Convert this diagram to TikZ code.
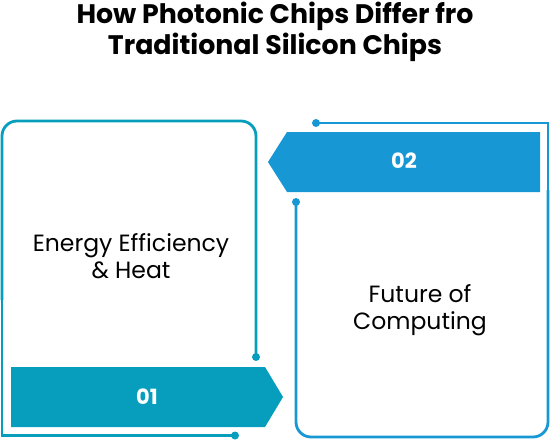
\documentclass[tikz,border=0pt]{standalone}
\usepackage{fontspec}
\setmainfont{Poppins}
\definecolor{teal1}{HTML}{069EBC}
\definecolor{blue2}{HTML}{1798D4}
\begin{document}
\begin{tikzpicture}[x=1pt,y=-1pt,
  frame/.style={line width=2.8pt},
  dotc/.style={circle,inner sep=0pt,minimum size=8pt},
  num/.style={text=white,font=\fontsize{21}{24}\selectfont\bfseries},
  body/.style={align=center,font=\fontsize{23.5}{27}\selectfont},
]
\useasboundingbox (0,0) rectangle (551,441);
\node[font=\fontsize{26.8}{31}\selectfont\bfseries,align=center] (title) at (275,32) {How Photonic Chips Differ fro\\Traditional Silicon Chips};

% left frame
\node[dotc,fill=teal1] (d1) at (256,357) {};
\node[dotc,fill=teal1] (d2) at (235,435.5) {};
\coordinate (l1) at (2,300);
\draw[frame,draw=teal1,rounded corners=15pt] (d1.center) -- (256,121) -- (2,121) -- (l1);
\draw[frame,draw=teal1] (2,290) -- (2,435.5) -- (d2.center);

% right frame
\node[dotc,fill=blue2] (d3) at (316,123) {};
\node[dotc,fill=blue2] (d4) at (296,202) {};
\draw[frame,draw=blue2] (d3.center) -- (548,123) -- (548,200);
\draw[frame,draw=blue2,rounded corners=15pt] (548,190) -- (548,437) -- (296,437) -- (d4.center);

% banners
\fill[teal1] (11,367) -- (265,367) -- (283,397) -- (265,427) -- (11,427) -- cycle;
\node[num] (n1) at (147,397) {01};
\fill[blue2] (540,132) -- (287,132) -- (268,162) -- (287,192) -- (540,192) -- cycle;
\node[num] (n2) at (404,161) {02};

\node[body] (t1) at (131,256) {Energy Efficiency\\\& Heat};
\node[body] (t2) at (420,310) {Future of\\Computing};
\end{tikzpicture}
\end{document}
